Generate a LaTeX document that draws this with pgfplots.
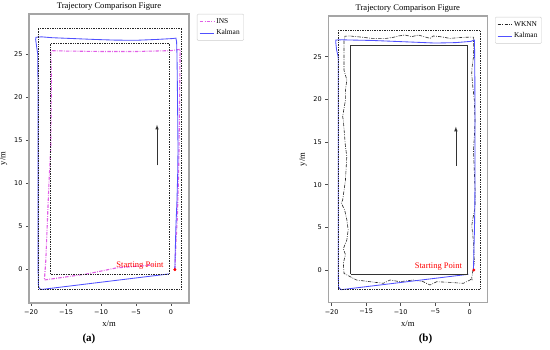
\documentclass[border=0pt]{standalone}
\usepackage{pgfplots}
\pgfplotsset{compat=1.18}
\usepackage{fontspec}
\setmainfont{Liberation Serif}
\newfontfamily\dejavu{DejaVu Sans}
\definecolor{kalblue}{RGB}{80,80,255}
\definecolor{insmag}{RGB}{225,95,230}
\definecolor{framegray}{RGB}{165,165,165}
\pgfplotsset{
  common/.style={
    scale only axis,
    anchor=south west,
    axis line style={framegray, line width=1.3pt},
    tick align=outside,
    xtick pos=bottom, ytick pos=left,
    major tick length=3pt,
    tick style={black!70, line width=0.5pt},
    xtick={-20,-15,-10,-5,0},
    xticklabels={−20,−15,−10,−5,0},
    ytick={0,5,10,15,20,25},
    yticklabels={0,5,10,15,20,25},
    ticklabel style={font=\dejavu\fontsize{6.5}{7}\selectfont},
    xlabel={x/m}, ylabel={y/m},
    label style={font=\fontsize{8.6}{9}\selectfont},
    title={Trajectory Comparison Figure},
    title style={font=\fontsize{8.6}{9}\selectfont, yshift=-5.5pt},
    legend cell align=left,
    legend style={font=\fontsize{7.4}{8}\selectfont, draw=black!20, rounded corners=1pt,
       anchor=north west, inner xsep=2pt, inner ysep=2pt, row sep=1.2pt,
       /tikz/every even column/.append style={column sep=4pt}},
    legend image code/.code={\draw[##1] (0pt,0pt) -- (14pt,0pt);},
  },
  dotrect/.style={color=black!85, line width=0.55pt, dash pattern=on 0.6pt off 1.1pt},
  insline/.style={color=insmag, line width=1.1pt, dash pattern=on 3.5pt off 1.3pt on 0.8pt off 1.3pt},
  kalline/.style={color=kalblue, line width=0.85pt, solid},
  wknnline/.style={color=black!85, line width=0.6pt, dash pattern=on 3.5pt off 1.3pt on 0.8pt off 1.3pt},
  arrowline/.style={color=black!80, line width=0.6pt, -latex},
}
\begin{document}
\begin{tikzpicture}
\useasboundingbox (0,0) rectangle (550pt,350pt);
% ---------------- (a) ----------------
\begin{axis}[common, at={(29pt,47pt)}, width=160pt, height=289pt,
  xmin=-20.3, xmax=2.57, ymin=-3.87, ymax=29.65,
  legend style={at={(1,1)}, xshift=8pt}]
\addplot[insline] coordinates {
(0.55,0) (0.7,3) (0.9,6) (1.05,10) (1.15,14) (1.2,18) (1.25,22) (1.3,25.55)
(0,25.4) (-5,25.3) (-10,25.3) (-15,25.35) (-17.2,25.4)
(-17.1,22) (-17.15,18) (-17.2,14) (-17.45,10) (-17.7,5) (-17.9,1) (-18.1,-1.2)
(-12,-0.5) (-7.8,0.2) (-2.5,0.55)};
\addlegendentry{INS}
\addplot[kalline] coordinates {
(0.55,0) (0.6,2) (0.7,5) (0.85,8) (0.95,11) (1.0,14) (0.95,18) (0.9,22) (0.85,25) (0.8,26.4) (0.7,26.85)
(0.2,26.8) (-2,26.7) (-5,26.6) (-8,26.62) (-11,26.7) (-14,26.8) (-17,26.9) (-18.5,27.0) (-19.3,26.95)
(-19.35,26.7) (-19.2,25.8) (-19.05,25) (-19.0,20) (-19.0,10) (-19.0,0) (-18.95,-1.9) (-18.8,-2.2) (-18.5,-2.3)
(-0.3,-0.5)};
\addlegendentry{Kalman}
\addplot[dotrect, forget plot] coordinates {(-19,-2.25) (1.5,-2.25) (1.5,28.05) (-19,28.05) (-19,-2.25)};
\addplot[dotrect, forget plot] coordinates {(-17.2,-0.53) (-0.25,-0.53) (-0.25,26.3) (-17.2,26.3) (-17.2,-0.53)};
\addplot[arrowline, forget plot] coordinates {(-2,12.1) (-2,16.8)};
\addplot[only marks, mark=*, red, mark size=1.3pt, forget plot] coordinates {(0.55,0)};
\node[anchor=east, red, font=\fontsize{8.5}{9}\selectfont, inner sep=0pt] at (axis cs:-1.05,0.42) {Starting Point};
\end{axis}
\node[font=\fontsize{11}{12}\selectfont\bfseries] at (89pt,11pt) {(a)};
% ---------------- (b) ----------------
\begin{axis}[common, at={(328.3pt,47.3pt)}, width=159pt, height=286.7pt,
  xmin=-20.48, xmax=2.55, ymin=-3.83, ymax=29.77,
  legend style={at={(1,1)}, xshift=7.7pt, yshift=-1pt}]
\addplot[wknnline] coordinates {
(0.35,-1.2) (0.3,-0.9) (0.67,1.0) (0.55,3.3) (0.3,5.2) (0.45,6.0) (0.75,7.2) (0.8,9) (0.7,11) (0.6,13) (0.55,14)
(0.7,16) (0.77,17.5) (0.67,19.9) (0.45,21.5) (0.29,23.0) (0.35,23.8) (0.55,25) (0.53,26.6) (0.58,27.2)
(0.52,27.3) (-0.93,27.27) (-2.86,27.15) (-4.3,27.35) (-5.27,27.43) (-5.75,27.15) (-7.44,27.54) (-8.41,27.35)
(-9.38,27.54) (-10.3,27.43) (-11.07,27.27) (-12.03,27.15) (-13.0,27.15) (-14.2,27.15) (-15.4,27.27)
(-16.4,27.35) (-17.35,27.43) (-18.07,27.4) (-18.2,26.9) (-18.2,25.8) (-18.2,23.4) (-17.8,22.3) (-18.0,21)
(-18.0,19.9) (-18.4,18.0) (-18.3,17.5) (-18.0,14.5) (-17.8,13.3) (-18.0,10.5) (-18.4,8.2) (-18.6,7.85)
(-18.1,7.0) (-17.8,5.9) (-17.6,4.7) (-17.8,3.5) (-18.3,2.5) (-18.0,1.8) (-18.3,0.8) (-18.2,-0.4)
(-16.4,-1.17) (-14.45,-1.37) (-12.5,-1.56) (-11.55,-1.17) (-10.1,-1.37) (-8.17,-1.17) (-6.72,-1.37)
(-5.75,-1.76) (-4.78,-1.37) (-2.85,-1.45) (-0.92,-1.56) (0.04,-1.17) (0.3,-1.0)};
\addlegendentry{WKNN}
\addplot[kalline] coordinates {
(0.55,0) (0.6,2) (0.7,5) (0.75,8) (0.77,11) (0.77,14) (0.77,18) (0.75,22) (0.72,25) (0.7,26.4) (0.67,26.96)
(0.2,26.8) (-2,26.65) (-5,26.6) (-8,26.7) (-11,26.8) (-14,26.9) (-17,26.95) (-18.5,26.98) (-19.38,26.96)
(-19.4,26.7) (-19.28,25.8) (-19.05,25) (-19.04,20) (-19.04,10) (-19.04,0) (-19.0,-1.97) (-18.8,-2.2) (-18.55,-2.3)
(-0.19,-0.5)};
\addlegendentry{Kalman}
\addplot[dotrect, forget plot] coordinates {(-19.05,-2.23) (1.5,-2.23) (1.5,28.1) (-19.05,28.1) (-19.05,-2.23)};
\addplot[color=black!80, line width=1pt, solid, forget plot] coordinates {(-17.2,-0.47) (-0.29,-0.47) (-0.29,26.37) (-17.2,26.37) (-17.2,-0.47)};
\addplot[arrowline, forget plot] coordinates {(-2,12.2) (-2,16.8)};
\addplot[only marks, mark=*, red, mark size=1.3pt, forget plot] coordinates {(0.6,0)};
\node[anchor=east, red, font=\fontsize{8.5}{9}\selectfont, inner sep=0pt] at (axis cs:-1.1,0.42) {Starting Point};
\end{axis}
\node[font=\fontsize{11}{12}\selectfont\bfseries] at (425.5pt,11pt) {(b)};
\end{tikzpicture}
\end{document}
